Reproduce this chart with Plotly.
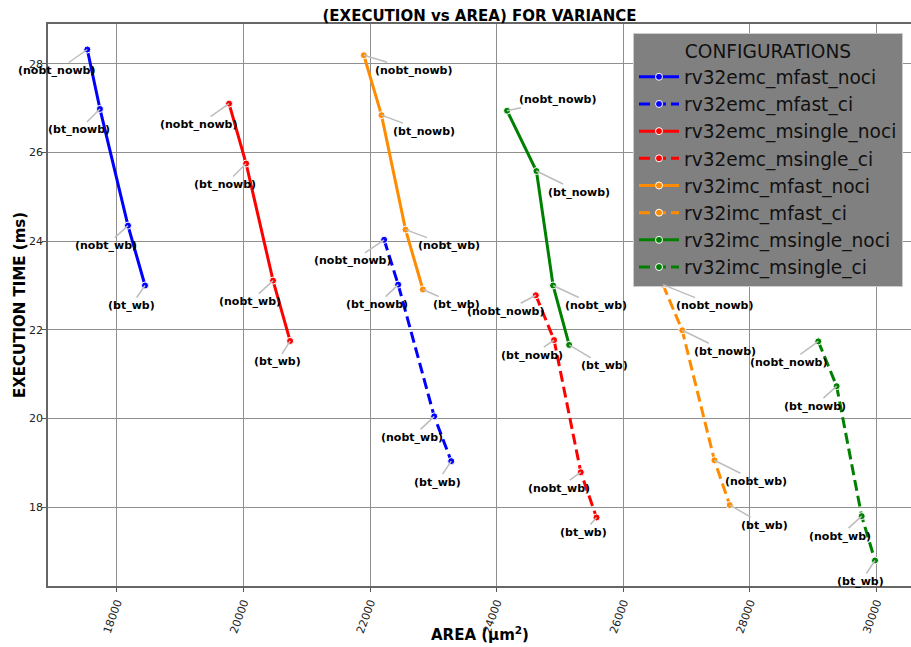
import plotly.graph_objects as go

# ---------------- data ----------------
point_labels = ["(nobt_nowb)", "(bt_nowb)", "(nobt_wb)", "(bt_wb)"]

config_names = [
    "rv32emc_mfast_noci", "rv32emc_mfast_ci",
    "rv32emc_msingle_noci", "rv32emc_msingle_ci",
    "rv32imc_mfast_noci", "rv32imc_mfast_ci",
    "rv32imc_msingle_noci", "rv32imc_msingle_ci",
]

area_emc_mfast_noci = [17531, 17731, 18174, 18443]
time_emc_mfast_noci = [28.32, 26.98, 24.35, 23.00]

area_emc_mfast_ci = [22221, 22443, 23012, 23281]
time_emc_mfast_ci = [24.03, 23.02, 20.05, 19.04]

area_emc_msingle_noci = [19771, 20040, 20466, 20735]
time_emc_msingle_noci = [27.10, 25.75, 23.11, 21.75]

area_emc_msingle_ci = [24617, 24906, 25328, 25576]
time_emc_msingle_ci = [22.78, 21.77, 18.79, 17.77]

area_imc_mfast_noci = [21900, 22179, 22559, 22833]
time_imc_mfast_noci = [28.19, 26.84, 24.26, 22.91]

area_imc_mfast_ci = [26625, 26930, 27439, 27681]
time_imc_mfast_ci = [23.02, 21.99, 19.06, 18.05]

area_imc_msingle_noci = [24163, 24627, 24890, 25144]
time_imc_msingle_noci = [26.94, 25.58, 23.00, 21.66]

area_imc_msingle_ci = [29080, 29370, 29766, 29976]
time_imc_msingle_ci = [21.74, 20.73, 17.80, 16.80]

x_tick_vals = [18000, 20000, 22000, 24000, 26000, 28000, 30000]
x_tick_text = ["18000", "20000", "22000", "24000", "26000", "28000", "30000"]
y_tick_vals = [18, 20, 22, 24, 26, 28]
y_tick_text = ["18", "20", "22", "24", "26", "28"]

# ---------------- styles ----------------
areas = [area_emc_mfast_noci, area_emc_mfast_ci, area_emc_msingle_noci, area_emc_msingle_ci,
         area_imc_mfast_noci, area_imc_mfast_ci, area_imc_msingle_noci, area_imc_msingle_ci]
times = [time_emc_mfast_noci, time_emc_mfast_ci, time_emc_msingle_noci, time_emc_msingle_ci,
         time_imc_mfast_noci, time_imc_mfast_ci, time_imc_msingle_noci, time_imc_msingle_ci]
colors = ["#0000ff", "#0000ff", "#ff0000", "#ff0000",
          "#ff8c00", "#ff8c00", "#008000", "#008000"]
dashes = ["solid", "11px,5px"] * 4

# label offsets (pixels) of each annotation text relative to its point
label_offsets = [
    [(-30, 21), (-21, 21), (-22, 20), (-14, 20)],
    [(-31, 21), (-21, 20), (-22, 21), (-14, 21)],
    [(-30, 21), (-21, 21), (-23, 21), (-13, 21)],
    [(-30, 16), (-22, 15), (-22, 16), (-13, 15)],
    [(50, 15), (43, 16), (43, 16), (34, 15)],
    [(52, 21), (43, 21), (42, 21), (35, 20)],
    [(51, -11), (43, 21), (43, 20), (35, 21)],
    [(-29, 21), (-22, 20), (-22, 20), (-14, 21)],
]

FONT = "DejaVu Sans"
PL, PR, PT, PB = 48, 911, 24, 586   # plot box in pixels
W, H = 911, 647

fig = go.Figure()
annotations = []
for name, xs, ys, col, dsh, offs in zip(config_names, areas, times, colors, dashes, label_offsets):
    fig.add_trace(go.Scatter(
        x=xs, y=ys, name=name, mode="lines+markers",
        line=dict(color=col, width=3, dash=dsh),
        marker=dict(size=7, color=col, line=dict(color="white", width=1)),
    ))
    for xv, yv, lab, (ax, ay) in zip(xs, ys, point_labels, offs):
        annotations.append(dict(
            x=xv, y=yv, xref="x", yref="y", text="<b>" + lab + "</b>",
            showarrow=True, arrowhead=0, arrowwidth=1.5, arrowcolor="#bdbdbd",
            ax=ax, ay=ay, standoff=0,
            font=dict(family=FONT, size=11, color="black"),
        ))

# axis titles as positioned annotations
annotations.append(dict(
    text="<b>EXECUTION TIME (ms)</b>", xref="paper", yref="paper",
    x=(20 - PL) / (PR - PL), y=(PB - 305) / (PB - PT),
    xanchor="center", yanchor="middle", textangle=-90, showarrow=False,
    font=dict(family=FONT, size=15, color="black"),
))
annotations.append(dict(
    text="<b>AREA (µm<sup>2</sup>)</b>", xref="paper", yref="paper",
    x=0.5, y=(PB - 634) / (PB - PT),
    xanchor="center", yanchor="middle", showarrow=False,
    font=dict(family=FONT, size=15, color="black"),
))

fig.update_layout(
    width=W, height=H,
    margin=dict(l=PL, r=W - PR, t=PT, b=H - PB, autoexpand=False),
    paper_bgcolor="white", plot_bgcolor="white",
    font=dict(family=FONT, size=11, color="#222222"),
    title=dict(text="<b>(EXECUTION vs AREA) FOR VARIANCE</b>",
               x=(PL + PR) / 2 / W, xanchor="center",
               y=1 - 16 / H, yanchor="middle",
               font=dict(family=FONT, size=15, color="black")),
    annotations=annotations,
    showlegend=True,
    legend=dict(
        x=(633 - PL) / (PR - PL), xanchor="left", y=(PB - 33) / (PB - PT), yanchor="top",
        bgcolor="#808080", bordercolor="#cccccc", borderwidth=1,
        itemwidth=40,
        font=dict(family=FONT, size=18.6, color="#111111"),
        title=dict(text="CONFIGURATIONS", side="top center",
                   font=dict(family=FONT, size=18.6, color="#111111")),
    ),
)

fig.update_xaxes(
    range=[16910, 30545], tickvals=x_tick_vals, ticktext=x_tick_text, tickangle=-70,
    automargin=False,
    showgrid=True, gridcolor="#8f8f8f", gridwidth=1, zeroline=False,
    showline=True, linecolor="#666666", linewidth=1.5, mirror=True,
    ticks="outside", ticklen=4, tickcolor="#555555",
    tickfont=dict(family=FONT, size=11, color="#222222"),
)
fig.update_yaxes(
    range=[16.225, 28.895], tickvals=y_tick_vals, ticktext=y_tick_text,
    automargin=False, ticklabelstandoff=-3,
    showgrid=True, gridcolor="#8f8f8f", gridwidth=1, zeroline=False,
    showline=True, linecolor="#666666", linewidth=1.5, mirror=True,
    ticks="outside", ticklen=4, tickcolor="#555555",
    tickfont=dict(family=FONT, size=11, color="#222222"),
)

fig.write_html("out.html", config={"displayModeBar": False},
               post_script="document.body.style.margin='0';")
